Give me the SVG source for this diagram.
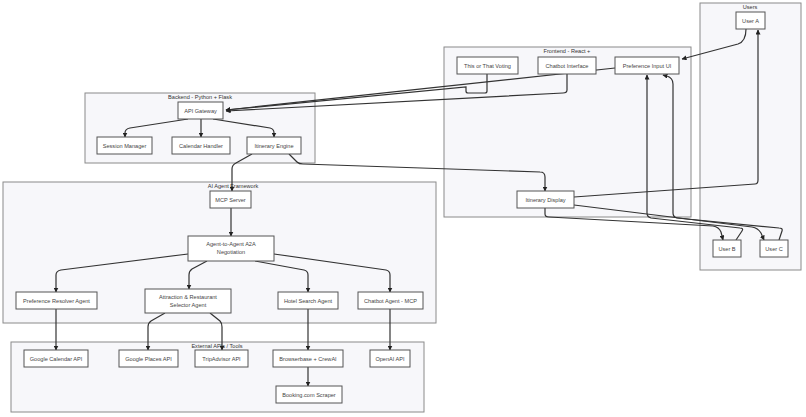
<svg xmlns="http://www.w3.org/2000/svg" width="806" height="417" viewBox="0 0 806 417">
<defs>
<style>
.cl{fill:#f7f7fa;stroke:#8a8a8a;stroke-width:1}
.ct{font-family:"Liberation Sans",Arial,sans-serif;font-size:5.6px;fill:#333;text-anchor:middle}
.nd rect{fill:#ffffff;stroke:#555;stroke-width:1}
.nd text{font-family:"Liberation Sans",Arial,sans-serif;font-size:5.6px;fill:#444;text-anchor:middle}
.e{fill:none;stroke:#333;stroke-width:1.2}
.ea{fill:none;stroke:#333;stroke-width:1.2;marker-end:url(#ah)}
</style>
<marker id="ah" viewBox="0 0 10 10" refX="9" refY="5" markerWidth="5" markerHeight="5" markerUnits="userSpaceOnUse" orient="auto">
<path d="M0,0 L10,5 L0,10 z" fill="#222"/>
</marker>
</defs>
<rect width="806" height="417" fill="#ffffff"/>
<g id="clusters">
<rect class="cl" x="700" y="3" width="101" height="267"/>
<text class="ct" x="750" y="9">Users</text>
<rect class="cl" x="444" y="47" width="247" height="170"/>
<text class="ct" x="567" y="53">Frontend - React +</text>
<rect class="cl" x="85" y="93" width="230" height="70"/>
<text class="ct" x="200" y="99">Backend - Python + Flask</text>
<rect class="cl" x="3" y="182" width="433" height="141"/>
<text class="ct" x="233" y="188">AI Agent Framework</text>
<rect class="cl" x="11" y="342" width="413" height="70"/>
<text class="ct" x="217" y="348">External APIs / Tools</text>
</g>
<g id="connectors">
<path class="ea" d="M746,29 C746,36 744,42 738,44 L682,59"/>
<path class="ea" d="M615,68 L226,110"/>
<path class="ea" d="M487,74 L487,91 Q487,93 485,93 L468,93 Q466,93 466,91 L466,87 L226,110"/>
<path class="ea" d="M567,74 L567,90 Q567,93 563,93 L226,111"/>
<path class="ea" d="M188,119 L130,128 Q125,129 125,133 L125,137"/>
<path class="ea" d="M201,119 L201,137"/>
<path class="ea" d="M213,119 L270,128 Q274,129 274,133 L274,137"/>
<path class="ea" d="M252,154 L236,163 Q232,165 232,169 L232,191"/>
<path class="ea" d="M289,154 L297,162 Q299,164 303,164 L540,172 Q545,172 545,177 L545,191"/>
<path class="ea" d="M231,208 L231,236"/>
<path class="ea" d="M188,254 L61,270 Q56,271 56,275 L56,292"/>
<path class="ea" d="M207,261 L192,269 Q189,271 189,275 L189,289"/>
<path class="ea" d="M255,261 L304,270 Q308,271 308,275 L308,292"/>
<path class="ea" d="M274,254 L386,270 Q390,271 390,275 L390,292"/>
<path class="ea" d="M56,309 L56,350"/>
<path class="ea" d="M165,313 L151,321 Q148,323 148,327 L148,350"/>
<path class="ea" d="M210,313 L220,321 Q222,323 222,327 L222,350"/>
<path class="ea" d="M308,309 L308,350"/>
<path class="ea" d="M390,309 L390,350"/>
<path class="ea" d="M308,367 L308,386"/>
<path class="ea" d="M574,197 L755,184 Q758,184 758,180 L758,30"/>
<path class="ea" d="M545,208 L545,214 Q545,217 549,217 L713,226 Q719,227 721,232 L723,240"/>
<path class="ea" d="M574,205 L752,227 Q758,228 761,233 L764,240"/>
<path class="ea" d="M736,240 L742,231 Q744,228 740,228 L651,218 Q647,217 647,213 L647,75"/>
<path class="ea" d="M779,240 L782,231 Q783,228 779,228 L677,218 Q673,217 673,213 L673,84 Q673,78 667,76 L663,75"/>
</g>
<g id="userA" class="nd"><rect x="736" y="12" width="29" height="17"/><text x="750.5" y="22.5">User A</text></g>
<g id="userB" class="nd"><rect x="713" y="240" width="28" height="17"/><text x="727" y="250.5">User B</text></g>
<g id="userC" class="nd"><rect x="760" y="240" width="28" height="17"/><text x="774" y="250.5">User C</text></g>
<g id="voting" class="nd"><rect x="457" y="57" width="61" height="17"/><text x="487.5" y="67.5">This or That Voting</text></g>
<g id="chatbotUI" class="nd"><rect x="538" y="57" width="58" height="17"/><text x="567" y="67.5">Chatbot Interface</text></g>
<g id="prefUI" class="nd"><rect x="615" y="57" width="64" height="17"/><text x="647" y="67.5">Preference Input UI</text></g>
<g id="itinDisplay" class="nd"><rect x="517" y="191" width="57" height="17"/><text x="545.5" y="201.5">Itinerary Display</text></g>
<g id="apiGateway" class="nd"><rect x="178" y="102" width="45" height="17"/><text x="200.5" y="112.5">API Gateway</text></g>
<g id="sessionMgr" class="nd"><rect x="97" y="137" width="55" height="17"/><text x="124.5" y="147.5">Session Manager</text></g>
<g id="calendarHandler" class="nd"><rect x="172" y="137" width="58" height="17"/><text x="201" y="147.5">Calendar Handler</text></g>
<g id="itinEngine" class="nd"><rect x="247" y="137" width="54" height="17"/><text x="274" y="147.5">Itinerary Engine</text></g>
<g id="mcpServer" class="nd"><rect x="210" y="191" width="41" height="17"/><text x="230.5" y="201.5">MCP Server</text></g>
<g id="a2a" class="nd"><rect x="188" y="236" width="86" height="25"/><text x="231" y="246">Agent-to-Agent A2A</text><text x="231" y="254">Negotiation</text></g>
<g id="prefResolver" class="nd"><rect x="16" y="292" width="81" height="17"/><text x="56.5" y="302.5">Preference Resolver Agent</text></g>
<g id="attraction" class="nd"><rect x="145" y="289" width="86" height="24"/><text x="188" y="299">Attraction &amp; Restaurant</text><text x="188" y="307">Selector Agent</text></g>
<g id="hotelAgent" class="nd"><rect x="278" y="292" width="60" height="17"/><text x="308" y="302.5">Hotel Search Agent</text></g>
<g id="chatbotAgent" class="nd"><rect x="358" y="292" width="65" height="17"/><text x="390.5" y="302.5">Chatbot Agent - MCP</text></g>
<g id="gcal" class="nd"><rect x="24" y="350" width="64" height="17"/><text x="56" y="360.5">Google Calendar API</text></g>
<g id="gplaces" class="nd"><rect x="119" y="350" width="59" height="17"/><text x="148.5" y="360.5">Google Places API</text></g>
<g id="tripadvisor" class="nd"><rect x="195" y="350" width="53" height="17"/><text x="221.5" y="360.5">TripAdvisor API</text></g>
<g id="browserbase" class="nd"><rect x="273" y="350" width="70" height="17"/><text x="308" y="360.5">Browserbase + CrewAI</text></g>
<g id="openai" class="nd"><rect x="370" y="350" width="40" height="17"/><text x="390" y="360.5">OpenAI API</text></g>
<g id="booking" class="nd"><rect x="276" y="386" width="66" height="17"/><text x="309" y="396.5">Booking.com Scraper</text></g>
</svg>
